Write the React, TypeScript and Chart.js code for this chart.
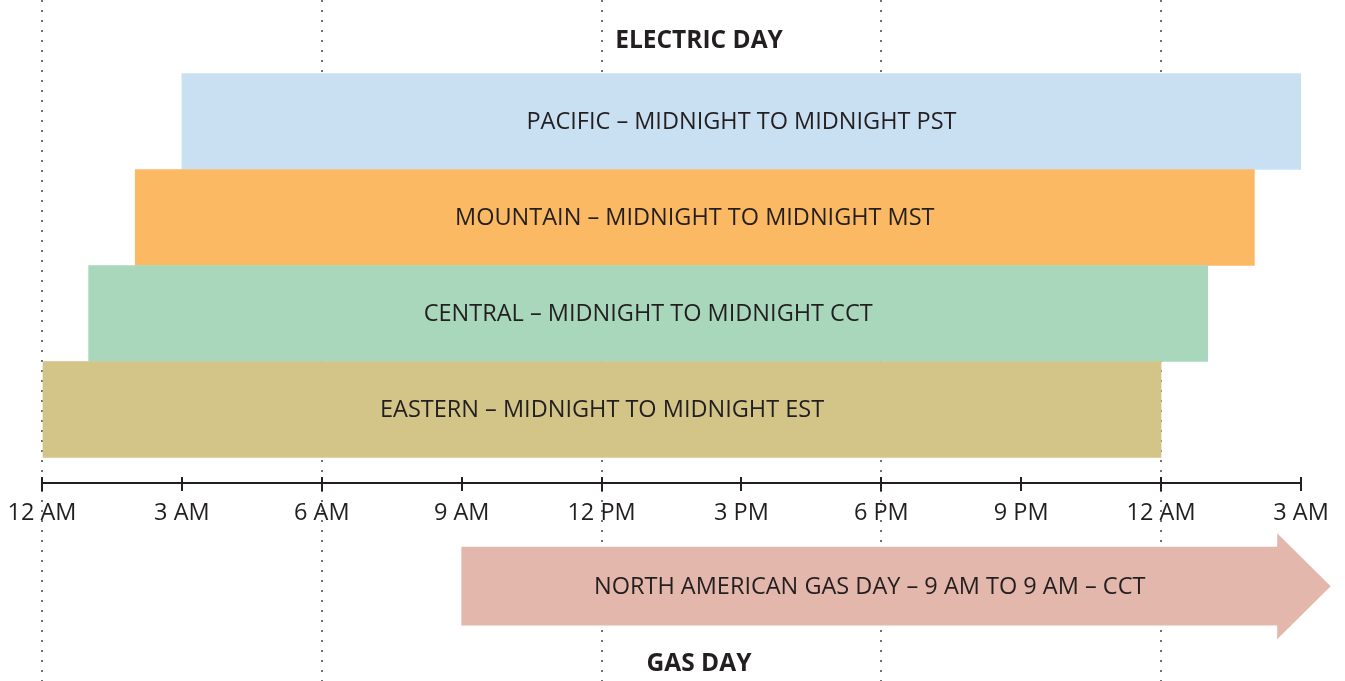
import React, { useEffect, useRef } from 'react';
import { Chart, registerables } from 'chart.js';

Chart.register(...registerables);

// ---- data ----
const zoneLabels = [
  'PACIFIC – MIDNIGHT TO MIDNIGHT PST',
  'MOUNTAIN – MIDNIGHT TO MIDNIGHT MST',
  'CENTRAL – MIDNIGHT TO MIDNIGHT CCT',
  'EASTERN – MIDNIGHT TO MIDNIGHT EST',
];
const zoneRows = [1, 2, 3, 4];
const zoneStartHour = [3, 2, 1, 0];
const zoneEndHour = [27, 26, 25, 24];
const zoneColors = ['#c9e0f3', '#fbb963', '#a8d7bc', '#d3c488'];

const gasLabels = ['NORTH AMERICAN GAS DAY – 9 AM TO 9 AM – CCT'];
const gasRows = [5.84];
const gasStartHour = [9];
const gasEndHour = [26.5];
const gasColor = '#e3b7ab';

const tickHours = [0, 3, 6, 9, 12, 15, 18, 21, 24, 27];
const tickLabels = ['12 AM', '3 AM', '6 AM', '9 AM', '12 PM', '3 PM', '6 PM', '9 PM', '12 AM', '3 AM'];
const gridHours = [0, 6, 12, 18, 24];

const titleTop = 'ELECTRIC DAY';
const titleBottom = 'GAS DAY';

// ---- style constants ----
const TEXT = '#231f20';
const FONT = '"Open Sans", "DejaVu Sans", sans-serif';
const AXIS_ROW = 4.766;
const Y_MIN = -0.2656;
const Y_MAX = 6.828;

const overlayPlugin = {
  id: 'overlay',
  afterDatasetsDraw(chart: any) {
    const ctx = chart.ctx;
    ctx.save();
    // arrow heads on gas bar
    const gasMeta = chart.getDatasetMeta(1);
    gasMeta.data.forEach((el: any) => {
      const { x, y, height } = el.getProps(['x', 'y', 'height'], true);
      ctx.fillStyle = gasColor;
      ctx.beginPath();
      ctx.moveTo(x - 0.5, y - height / 2 - 14);
      ctx.lineTo(x + 53, y);
      ctx.lineTo(x - 0.5, y + height / 2 + 14);
      ctx.closePath();
      ctx.fill();
    });
    // bar labels
    ctx.fillStyle = TEXT;
    ctx.font = `23.5px ${FONT}`;
    ctx.textAlign = 'center';
    ctx.textBaseline = 'middle';
    const drawLabels = (idx: number, labels: string[]) => {
      chart.getDatasetMeta(idx).data.forEach((el: any, i: number) => {
        const { x, y, base } = el.getProps(['x', 'y', 'base'], true);
        ctx.fillText(labels[i], (x + base) / 2, y + 1);
      });
    };
    drawLabels(0, zoneLabels);
    drawLabels(1, gasLabels);

    // axis line and tick marks
    const xs = chart.scales.x;
    const axisY = chart.scales.y.getPixelForValue(AXIS_ROW);
    ctx.strokeStyle = TEXT;
    ctx.lineWidth = 2;
    tickHours.forEach((h) => {
      const px = Math.round(xs.getPixelForValue(h));
      ctx.beginPath();
      ctx.moveTo(px, axisY - 6);
      ctx.lineTo(px, axisY + 8);
      ctx.stroke();
    });
    ctx.beginPath();
    ctx.moveTo(xs.left, axisY);
    ctx.lineTo(xs.right, axisY);
    ctx.stroke();

    // titles
    ctx.font = `bold 24.5px ${FONT}`;
    ctx.fillText(titleTop, 699, 41);
    ctx.fillText(titleBottom, 699, 664);
    ctx.restore();
  },
};

export default function App() {
  const ref = useRef<HTMLCanvasElement>(null);

  useEffect(() => {
    document.body.style.margin = '0';
    const canvas = ref.current;
    if (!canvas) return;
    const chart = new Chart(canvas, {
      type: 'bar',
      data: {
        datasets: [
          {
            data: zoneRows.map((r, i) => ({ x: [zoneStartHour[i], zoneEndHour[i]], y: r })) as any,
            backgroundColor: zoneColors,
            barThickness: 96,
            borderWidth: 0,
            borderSkipped: false,
            grouped: false,
          } as any,
          {
            data: gasRows.map((r, i) => ({ x: [gasStartHour[i], gasEndHour[i]], y: r })) as any,
            backgroundColor: gasColor,
            barThickness: 78,
            borderWidth: 0,
            borderSkipped: false,
            grouped: false,
          } as any,
        ],
      },
      options: {
        indexAxis: 'y',
        responsive: false,
        animation: false,
        events: [],
        layout: { padding: { left: 42, right: 44, top: 0, bottom: 0 } },
        plugins: {
          legend: { display: false },
          title: { display: false },
          tooltip: { enabled: false },
        },
        scales: {
          x: {
            type: 'linear',
            min: 0,
            max: 27,
            offset: false,
            position: { y: AXIS_ROW } as any,
            afterBuildTicks: (scale: any) => {
              scale.ticks = tickHours.map((v) => ({ value: v }));
            },
            afterFit: (scale: any) => {
              scale.paddingLeft = 0;
              scale.paddingRight = 0;
            },
            ticks: {
              autoSkip: false,
              maxRotation: 0,
              padding: 16,
              color: TEXT,
              font: { family: FONT, size: 23.5 },
              callback: (v: any) => tickLabels[tickHours.indexOf(Number(v))],
            },
            grid: {
              drawTicks: false,
              offset: false,
              lineWidth: 2,
              color: (c: any) =>
                c.tick && gridHours.includes(c.tick.value) ? '#707072' : 'rgba(0,0,0,0)',
            },
            border: { display: false, dash: [2, 8] },
          },
          y: {
            type: 'linear',
            reverse: true,
            offset: false,
            min: Y_MIN,
            max: Y_MAX,
            display: false,
            grid: { offset: false },
          },
        },
      } as any,
      plugins: [overlayPlugin],
    });
    return () => chart.destroy();
  }, []);

  return <canvas ref={ref} width={1345} height={681} style={{ display: 'block' }} />;
}
